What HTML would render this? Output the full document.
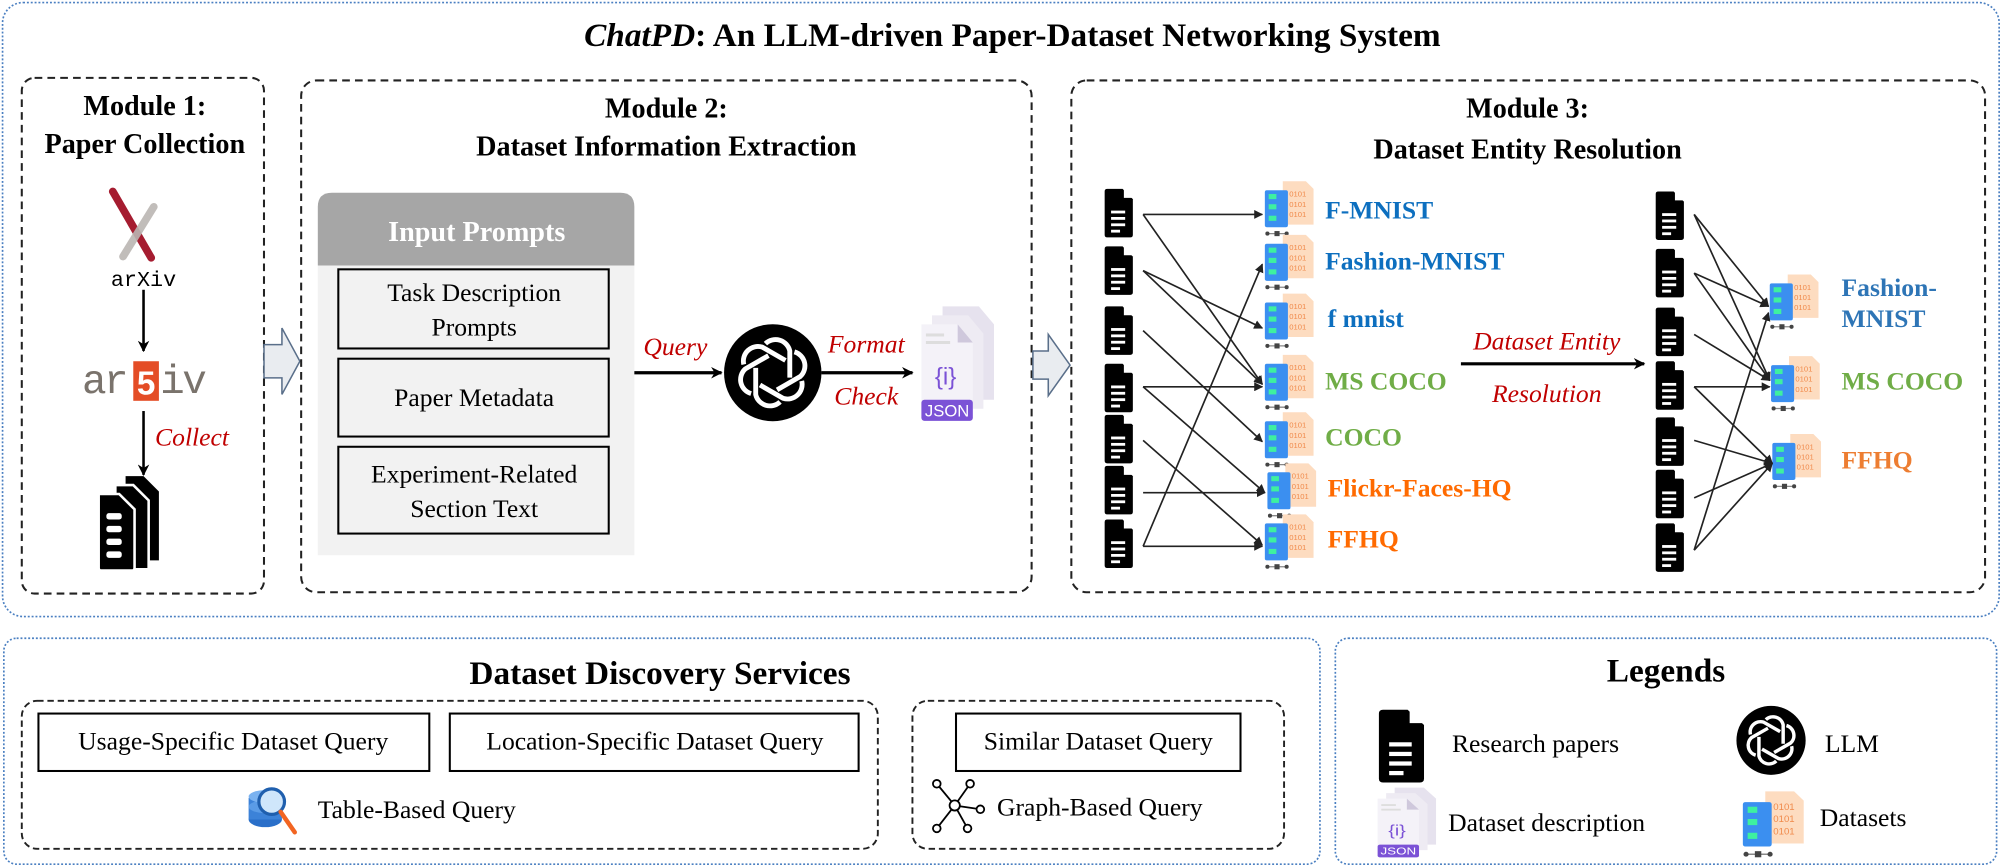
<!DOCTYPE html>
<html><head><meta charset="utf-8"><style>
html,body{margin:0;padding:0;background:#fff;}
svg{display:block;}
text{font-family:"Liberation Serif",serif;}
text.mono{font-family:"Liberation Mono",monospace;}
text.sans{font-family:"Liberation Sans",sans-serif;}
</style></head><body>
<svg width="2003" height="868" viewBox="0 0 1563 680" preserveAspectRatio="none" xmlns="http://www.w3.org/2000/svg">
<defs>
<marker id="ah" viewBox="0 0 10 10" refX="9" refY="5" markerWidth="7" markerHeight="7" markerUnits="userSpaceOnUse" orient="auto"><path d="M0,0 L10,5 L0,10 z" fill="#222"/></marker>
<marker id="ah2" viewBox="0 0 10 10" refX="9" refY="5" markerWidth="9" markerHeight="9" markerUnits="userSpaceOnUse" orient="auto"><path d="M0,0 L10,5 L0,10 L3,5 z" fill="#000"/></marker>
<g id="doc">
<path d="M2,0 H14 L22,8 V36 Q22,38 20,38 H2 Q0,38 0,36 V2 Q0,0 2,0 Z" fill="#000"/>
<path d="M15,0 V7 H22 Z" fill="#fff"/>
<rect x="5" y="17" width="11" height="2.2" fill="#fff"/>
<rect x="5" y="22" width="11" height="2.2" fill="#fff"/>
<rect x="5" y="27" width="11" height="2.2" fill="#fff"/>
<rect x="5" y="32" width="7" height="2.2" fill="#fff"/>
</g>
<g id="ds">
<path d="M14,0 H32 L38,6 V34 H14 Z" fill="#fddcc0"/>
<text class="sans" x="19" y="12" font-size="6" fill="#f08a4b">0101</text>
<text class="sans" x="19" y="20" font-size="6" fill="#f08a4b">0101</text>
<text class="sans" x="19" y="28" font-size="6" fill="#f08a4b">0101</text>
<rect x="0" y="7" width="18" height="29" rx="1.5" fill="#3b8ff0"/>
<rect x="3" y="10" width="6" height="4" fill="#3ef0a0"/>
<rect x="3" y="18" width="6" height="4" fill="#3ef0a0"/>
<rect x="3" y="27" width="6" height="4" fill="#3ef0a0"/>
<line x1="1" y1="41" x2="18" y2="41" stroke="#888" stroke-width="1"/>
<circle cx="2" cy="41" r="1.6" fill="#444"/><rect x="7.5" y="39" width="4" height="4" fill="#444"/><circle cx="17" cy="41" r="1.6" fill="#444"/>
</g>
<g id="json">
<path d="M14,0 H38 L48,12 V62 H14 Z" fill="#e6e2ee"/>
<path d="M7,6 H31 L41,18 V68 H7 Z" fill="#eeebf3"/>
<path d="M0,12 H24 L34,24 V74 H0 Z" fill="#f4f2f8"/>
<path d="M24,12 V24 H34 Z" fill="#cfc8dc"/>
<rect x="3" y="18" width="12" height="2" fill="#ddd"/><rect x="3" y="23" width="16" height="2" fill="#ddd"/>
<text class="sans" x="16" y="52" font-size="16" fill="#7b52d6" text-anchor="middle">{i}</text>
<rect x="0" y="62" width="34" height="14" rx="2" fill="#7b52d6"/>
<text class="sans" x="17" y="73" font-size="11" fill="#fff" text-anchor="middle">JSON</text>
</g>
<g id="llm">
<circle cx="0" cy="0" r="1" fill="#000"/>
<g fill="none" stroke="#fff" stroke-width="0.1">
<path d="M-0.15,-0.6 A0.3,0.3 0 0 1 0.35,-0.45 L0.35,0.1" transform="rotate(0)"/>
<path d="M-0.15,-0.6 A0.3,0.3 0 0 1 0.35,-0.45 L0.35,0.1" transform="rotate(60)"/>
<path d="M-0.15,-0.6 A0.3,0.3 0 0 1 0.35,-0.45 L0.35,0.1" transform="rotate(120)"/>
<path d="M-0.15,-0.6 A0.3,0.3 0 0 1 0.35,-0.45 L0.35,0.1" transform="rotate(180)"/>
<path d="M-0.15,-0.6 A0.3,0.3 0 0 1 0.35,-0.45 L0.35,0.1" transform="rotate(240)"/>
<path d="M-0.15,-0.6 A0.3,0.3 0 0 1 0.35,-0.45 L0.35,0.1" transform="rotate(300)"/>
</g>
</g>
</defs>

<rect x="2" y="2" width="1558" height="481" rx="16" fill="none" stroke="#4a7fc1" stroke-width="1.3" stroke-dasharray="1.5,1.5"/>
<text x="790" y="36" font-size="26" font-weight="bold" text-anchor="middle"><tspan font-style="italic">ChatPD</tspan>:  An LLM-driven Paper-Dataset Networking System</text>

<!-- Module 1 -->
<rect x="17" y="61" width="189" height="404" rx="10" fill="none" stroke="#222" stroke-width="1.6" stroke-dasharray="6,4"/>
<text x="113" y="90" font-size="22" font-weight="bold" text-anchor="middle">Module 1:</text>
<text x="113" y="120" font-size="22" font-weight="bold" text-anchor="middle">Paper Collection</text>
<line x1="88" y1="150" x2="118" y2="202" stroke="#a51c30" stroke-width="6" stroke-linecap="round"/>
<line x1="120" y1="162" x2="96" y2="201" stroke="#bbb6b3" stroke-width="6" stroke-linecap="round" opacity="0.9"/>
<text class="mono" x="112" y="224" font-size="17" text-anchor="middle">arXiv</text>
<line x1="112" y1="227" x2="112" y2="275" stroke="#000" stroke-width="2" marker-end="url(#ah2)"/>
<text class="mono" x="64" y="308" font-size="32" fill="#7a736c" letter-spacing="-2">ar</text>
<rect x="104" y="283" width="20" height="31" fill="#e44d26"/>
<text class="sans" x="114" y="309" font-size="26" fill="#fff" text-anchor="middle" font-weight="bold">5</text>
<text class="mono" x="125" y="308" font-size="32" fill="#7a736c" letter-spacing="-2">iv</text>
<line x1="112" y1="322" x2="112" y2="372" stroke="#000" stroke-width="2" marker-end="url(#ah2)"/>
<text x="121" y="349" font-size="20" font-style="italic" fill="#c00000">Collect</text>
<g>
<path d="M98,373 h14 l12,12 v54 h-26 z" fill="#000"/>
<path d="M90,380 h14 l12,12 v54 h-26 z" fill="#000" stroke="#fff" stroke-width="2"/>
<path d="M77,387 h16 l12,12 v46 q0,2 -2,2 h-24 q-2,0 -2,-2 z" fill="#000" stroke="#fff" stroke-width="2"/>
<rect x="83" y="402" width="12" height="5" rx="2" fill="#fff"/><rect x="83" y="412" width="12" height="5" rx="2" fill="#fff"/><rect x="83" y="422" width="12" height="5" rx="2" fill="#fff"/><rect x="83" y="432" width="12" height="5" rx="2" fill="#fff"/>
</g>

<path d="M206,270 H220 V257 L234,283 L220,309 V296 H206 Z" fill="#e9ecf0" stroke="#5a6f8a" stroke-width="1.2"/>

<!-- Module 2 -->
<rect x="235" y="63" width="570" height="401" rx="12" fill="none" stroke="#222" stroke-width="1.6" stroke-dasharray="6,4"/>
<text x="520" y="92" font-size="22" font-weight="bold" text-anchor="middle">Module 2:</text>
<text x="520" y="122" font-size="22" font-weight="bold" text-anchor="middle">Dataset Information Extraction</text>
<path d="M248,208 V162 Q248,151 259,151 H484 Q495,151 495,162 V208 Z" fill="#a6a6a6"/>
<rect x="248" y="208" width="247" height="227" fill="#f2f2f2"/>
<text x="372" y="189" font-size="22" font-weight="bold" fill="#fff" text-anchor="middle">Input Prompts</text>
<rect x="264" y="211" width="211" height="62" fill="none" stroke="#000" stroke-width="1.6"/>
<text x="370" y="236" font-size="20" text-anchor="middle">Task Description</text>
<text x="370" y="263" font-size="20" text-anchor="middle">Prompts</text>
<rect x="264" y="281" width="211" height="61" fill="none" stroke="#000" stroke-width="1.6"/>
<text x="370" y="318" font-size="20" text-anchor="middle">Paper Metadata</text>
<rect x="264" y="350" width="211" height="68" fill="none" stroke="#000" stroke-width="1.6"/>
<text x="370" y="378" font-size="20" text-anchor="middle">Experiment-Related</text>
<text x="370" y="405" font-size="20" text-anchor="middle">Section Text</text>
<line x1="495" y1="292" x2="563" y2="292" stroke="#000" stroke-width="2.5" marker-end="url(#ah2)"/>
<text x="527" y="278" font-size="20" font-style="italic" fill="#c00000" text-anchor="middle">Query</text>
<use href="#llm" transform="translate(603,292) scale(38)"/>
<line x1="641" y1="292" x2="712" y2="292" stroke="#000" stroke-width="2.5" marker-end="url(#ah2)"/>
<text x="676" y="276" font-size="20" font-style="italic" fill="#c00000" text-anchor="middle">Format</text>
<text x="676" y="317" font-size="20" font-style="italic" fill="#c00000" text-anchor="middle">Check</text>
<use href="#json" transform="translate(719,240) scale(1.18)"/>

<path d="M806,275 H818 V262 L835,286 L818,310 V297 H806 Z" fill="#e9ecf0" stroke="#5a6f8a" stroke-width="1.2"/>

<!-- Module 3 -->
<rect x="836" y="63" width="713" height="401" rx="12" fill="none" stroke="#222" stroke-width="1.6" stroke-dasharray="6,4"/>
<text x="1192" y="92" font-size="22" font-weight="bold" text-anchor="middle">Module 3:</text>
<text x="1192" y="124" font-size="22" font-weight="bold" text-anchor="middle">Dataset Entity Resolution</text>

<use href="#doc" x="862" y="148"/><use href="#doc" x="862" y="193"/><use href="#doc" x="862" y="240"/><use href="#doc" x="862" y="285"/><use href="#doc" x="862" y="325"/><use href="#doc" x="862" y="365"/><use href="#doc" x="862" y="407"/>
<use href="#ds" x="987" y="142"/><use href="#ds" x="987" y="184"/><use href="#ds" x="987" y="230"/><use href="#ds" x="987" y="278"/><use href="#ds" x="987" y="323"/><use href="#ds" x="989" y="363"/><use href="#ds" x="987" y="403"/>
<g font-size="20" font-weight="bold">
<text x="1034" y="171" fill="#0d6fbf">F-MNIST</text>
<text x="1034" y="211" fill="#0d6fbf">Fashion-MNIST</text>
<text x="1036" y="256" fill="#0d6fbf">f mnist</text>
<text x="1034" y="305" fill="#70ad47">MS COCO</text>
<text x="1034" y="349" fill="#70ad47">COCO</text>
<text x="1036" y="389" fill="#ff6a00">Flickr-Faces-HQ</text>
<text x="1036" y="429" fill="#ff6a00">FFHQ</text>
</g>
<g stroke="#222" stroke-width="1.3" marker-end="url(#ah)">
<line x1="892" y1="168" x2="985" y2="168"/>
<line x1="892" y1="168" x2="985" y2="301"/>
<line x1="892" y1="212" x2="985" y2="257"/>
<line x1="892" y1="212" x2="985" y2="301"/>
<line x1="892" y1="259" x2="985" y2="346"/>
<line x1="892" y1="303" x2="985" y2="303"/>
<line x1="892" y1="303" x2="987" y2="386"/>
<line x1="892" y1="345" x2="985" y2="427"/>
<line x1="892" y1="386" x2="987" y2="386"/>
<line x1="892" y1="428" x2="985" y2="428"/>
<line x1="892" y1="428" x2="985" y2="207"/>
</g>

<text x="1207" y="274" font-size="20" font-style="italic" fill="#c00000" text-anchor="middle">Dataset Entity</text>
<line x1="1140" y1="285" x2="1283" y2="285" stroke="#000" stroke-width="2.5" marker-end="url(#ah2)"/>
<text x="1207" y="315" font-size="20" font-style="italic" fill="#c00000" text-anchor="middle">Resolution</text>

<use href="#doc" x="1292" y="150"/><use href="#doc" x="1292" y="195"/><use href="#doc" x="1292" y="241"/><use href="#doc" x="1292" y="283"/><use href="#doc" x="1292" y="327"/><use href="#doc" x="1292" y="368"/><use href="#doc" x="1292" y="410"/>
<use href="#ds" x="1381" y="215"/><use href="#ds" x="1382" y="279"/><use href="#ds" x="1383" y="340"/>
<g font-size="20" font-weight="bold">
<text x="1437" y="232" fill="#2e75b6">Fashion-</text>
<text x="1437" y="256" fill="#2e75b6">MNIST</text>
<text x="1437" y="305" fill="#70ad47">MS COCO</text>
<text x="1437" y="367" fill="#ed7d31">FFHQ</text>
</g>
<g stroke="#222" stroke-width="1.3" marker-end="url(#ah)">
<line x1="1322" y1="168" x2="1380" y2="240"/>
<line x1="1322" y1="168" x2="1381" y2="298"/>
<line x1="1322" y1="214" x2="1380" y2="240"/>
<line x1="1322" y1="214" x2="1381" y2="298"/>
<line x1="1322" y1="262" x2="1381" y2="298"/>
<line x1="1322" y1="303" x2="1381" y2="303"/>
<line x1="1322" y1="303" x2="1383" y2="363"/>
<line x1="1322" y1="345" x2="1383" y2="363"/>
<line x1="1322" y1="390" x2="1383" y2="363"/>
<line x1="1322" y1="431" x2="1383" y2="363"/>
<line x1="1322" y1="431" x2="1380" y2="245"/>
</g>

<!-- Discovery services -->
<rect x="3" y="500" width="1027" height="177" rx="10" fill="none" stroke="#4a7fc1" stroke-width="1.3" stroke-dasharray="1.5,1.5"/>
<text x="515" y="536" font-size="26" font-weight="bold" text-anchor="middle">Dataset Discovery Services</text>
<rect x="17" y="549" width="668" height="116" rx="12" fill="none" stroke="#222" stroke-width="1.5" stroke-dasharray="5,3"/>
<rect x="30" y="559" width="305" height="45" fill="none" stroke="#000" stroke-width="1.6"/>
<text x="182" y="587" font-size="20" text-anchor="middle">Usage-Specific Dataset Query</text>
<rect x="351" y="559" width="319" height="45" fill="none" stroke="#000" stroke-width="1.6"/>
<text x="511" y="587" font-size="20" text-anchor="middle">Location-Specific Dataset Query</text>
<g>
<ellipse cx="207" cy="642" rx="13" ry="6" fill="#2a6fc9"/>
<rect x="194" y="625" width="26" height="17" fill="#3c82d8"/>
<ellipse cx="207" cy="632" rx="13" ry="5" fill="#5a9be6"/>
<ellipse cx="207" cy="624" rx="13" ry="5" fill="#7ab2f0"/>
<circle cx="212" cy="628" r="10" fill="#cfe6fb" stroke="#1f5fae" stroke-width="2.5"/>
<line x1="219" y1="636" x2="230" y2="652" stroke="#f26522" stroke-width="3.5" stroke-linecap="round"/>
</g>
<text x="248" y="641" font-size="20">Table-Based Query</text>
<rect x="712" y="549" width="290" height="116" rx="12" fill="none" stroke="#222" stroke-width="1.5" stroke-dasharray="5,3"/>
<rect x="746" y="559" width="222" height="45" fill="none" stroke="#000" stroke-width="1.6"/>
<text x="857" y="587" font-size="20" text-anchor="middle">Similar Dataset Query</text>
<g stroke="#000" stroke-width="1.4" fill="#fff">
<line x1="745" y1="631" x2="731" y2="614"/><line x1="745" y1="631" x2="757" y2="614"/><line x1="745" y1="631" x2="765" y2="634"/><line x1="745" y1="631" x2="731" y2="649"/><line x1="745" y1="631" x2="755" y2="649"/>
<circle cx="745" cy="631" r="4"/><circle cx="731" cy="614" r="3"/><circle cx="757" cy="614" r="3"/><circle cx="765" cy="634" r="3"/><circle cx="731" cy="649" r="3"/><circle cx="755" cy="649" r="3"/>
</g>
<text x="778" y="639" font-size="20">Graph-Based Query</text>

<!-- Legends -->
<rect x="1042" y="500" width="516" height="177" rx="10" fill="none" stroke="#4a7fc1" stroke-width="1.3" stroke-dasharray="1.5,1.5"/>
<text x="1300" y="534" font-size="26" font-weight="bold" text-anchor="middle">Legends</text>
<use href="#doc" transform="translate(1076,556) scale(1.6,1.5)"/>
<text x="1133" y="589" font-size="20">Research papers</text>
<use href="#llm" transform="translate(1382,580) scale(27)"/>
<text x="1424" y="589" font-size="20">LLM</text>
<use href="#json" transform="translate(1075,617) scale(0.95,0.72)"/>
<text x="1130" y="651" font-size="20">Dataset description</text>
<use href="#ds" transform="translate(1360,620) scale(1.25,1.2)"/>
<text x="1420" y="647" font-size="20">Datasets</text>
</svg>
</body></html>
